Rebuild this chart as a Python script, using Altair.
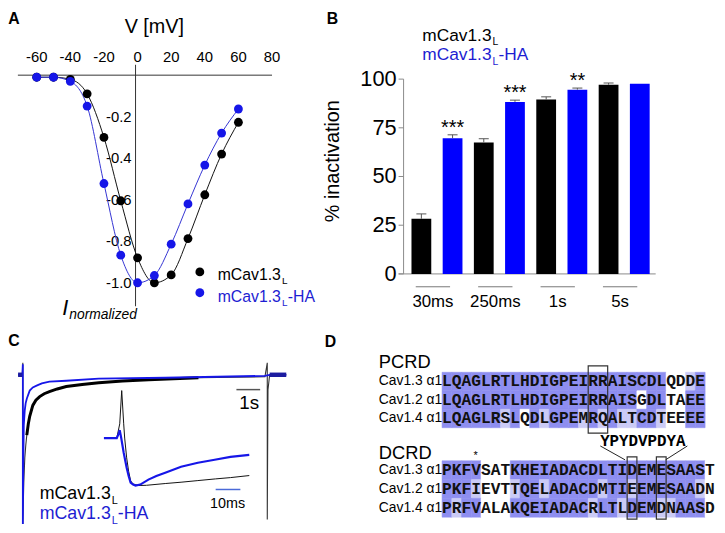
import altair as alt
import pandas as pd

# ============================ DATA ============================
# --- Panel A: normalised current-voltage relation
iv_voltage = [-60, -50, -40, -30, -20, -10, 0, 10, 20, 30, 40, 50, 60]
iv_mcav = [-0.01, -0.01, -0.02, -0.09, -0.30, -0.605, -0.88, -1.0, -0.962, -0.787, -0.576, -0.38, -0.227]
iv_mcav_ha = [-0.01, -0.01, -0.03, -0.149, -0.522, -0.867, -1.0, -0.965, -0.814, -0.62, -0.433, -0.279, -0.163]
iv_ticks_v = [-60, -40, -20, 0, 20, 40, 60, 80]
iv_ticks_i = [-1.0, -0.8, -0.6, -0.4, -0.2]

# --- Panel B: % inactivation after pulses of given duration
durations = ["30ms", "250ms", "1s", "5s"]
inact_mcav = [28.3, 67.5, 89.5, 97.1]
inact_mcav_sem = [2.5, 1.9, 1.4, 0.9]
inact_ha = [69.7, 88.3, 94.6, 97.6]
inact_ha_sem = [1.7, 0.9, 0.8, 0.0]
signif_ha = ["***", "***", "**", ""]
inact_ticks = [0, 25, 50, 75, 100]

# --- Panel C: normalised current traces (long pulse, seconds)
long_t_mcav = [-0.2, -0.02, 0.0, 0.0, 0.04, 0.083, 0.125, 0.167, 0.23, 0.29, 0.42, 0.55, 0.71, 0.9,
               1.12, 1.45, 1.83, 2.5, 3.2, 4.2, 5.3, 7.4, 10.2, 10.3, 10.3, 10.33, 10.4, 11.1]
long_i_mcav = [0, 0, 0.08, -1.0, -0.72, -0.556, -0.47, -0.404, -0.33, -0.278, -0.205, -0.17, -0.146, -0.127,
               -0.113, -0.095, -0.079, -0.065, -0.053, -0.042, -0.033, -0.02, -0.013, 0.08, -0.97, -0.1, 0, 0]
long_t_ha = [-0.2, -0.02, 0.0, 0.0, 0.02, 0.04, 0.08, 0.12, 0.17, 0.29, 0.42, 0.58, 0.8, 1.12,
             1.83, 3.2, 6.0, 10.2, 10.4, 11.1]
long_i_ha = [0, 0, 0.07, -1.0, -0.6, -0.338, -0.24, -0.19, -0.159, -0.106, -0.085, -0.073, -0.058, -0.046,
             -0.04, -0.026, -0.02, -0.007, 0, 0]
# inset (milliseconds)
short_t_mcav = [0, 1.2, 2.0, 2.8, 3.2, 4.0, 4.8, 5.6, 6.6, 7.6, 8.8, 12, 19.6, 26, 32.8, 40, 46, 53.6]
short_i_mcav = [0, 0.3, 1.0, 0.3, 0.0, -0.417, -0.7, -0.9, -0.97, -0.98, -1.0, -0.995, -0.958, -0.93,
                -0.896, -0.86, -0.833, -0.79]
short_t_ha = [-5.2, 0, 0.8, 1.2, 1.8, 2.8, 4.0, 4.8, 5.6, 6.6, 7.6, 9.5, 12.8, 16, 19.6, 26, 32.8, 39.6, 46, 53.6]
short_i_ha = [0, 0, 0.1, 0.167, 0.0, -0.31, -0.625, -0.8, -0.9375, -0.98, -1.0, -0.98, -0.875, -0.8,
              -0.73, -0.604, -0.52, -0.458, -0.396, -0.354]

# --- Panel D: sequence alignment (D = identical, l = similar, w = different)
row_names = ["Cav1.3 \u03b11", "Cav1.2 \u03b11", "Cav1.4 \u03b11"]
pcrd_seq = ["LQAGLRTLHDIGPEIRRAISCDLQDDE",
            "LQAGLRTLHDIGPEIRRAISGDLTAEE",
            "LQAGLRSLQDLGPEMRQALTCDTEEEE"]
pcrd_shade = ["DDDDDDDDDDDDDDDDDDDDDDDwwlD",
              "DDDDDDDDDDDDDDDDDDDDwDDwwDD",
              "DDDDDDlDwDlDDDlDlDllDDlwwDD"]
dcrd_seq = ["PKFVSATKHEIADACDLTIDEMESAAST",
            "PKFIEVTTQELADACDMTIEEMESAADN",
            "PRFVALAKQEIADACRLTLDEMDNAASD"]
dcrd_shade = ["DDDDwwwDDDDDDDDDDDDDDDDDDDDw",
              "DDDlwwwlDDlDDDDDlDDlDDDDDDlw",
              "DlDDwwwDDDDDDDDlDDlDDDllDDDw"]
pcrd_box_start, pcrd_box_width = [15], [2]
dcrd_box_start, dcrd_box_width = [19, 22], [1, 1]
ha_tag = "YPYDVPDYA"

# ============================ STYLE ============================
OX = OY = 8  # page margin (reference pixels -> chart pixels)
FONT = "Liberation Sans"
MONO = "Liberation Mono"
BLACK = "#000000"
BLUE = "#1616e8"
BLUE_LINE = "#3434d2"
BAR_BLUE = "#0000ff"
TXT_BLUE = "#1d1dd2"
GRAY = "#8a8a8a"
AXIS_DARK = "#333333"
DARK = "#8e8ef0"
LIGHT = "#cbcbf6"


def xs(dom, r0, r1):
    return alt.Scale(domain=dom, range=[r0 - OX, r1 - OX], nice=False, zero=False)


def ys(dom, r0, r1):
    return alt.Scale(domain=dom, range=[r0 - OY, r1 - OY], nice=False, zero=False)


one = pd.DataFrame({"_": [0]})


def label(text, x, y, size, color=BLACK, weight="normal", style="normal", align="left",
          baseline="middle", angle=0, font=FONT):
    return alt.Chart(one).mark_text(text=text, fontSize=size, color=color, fontWeight=weight,
                                    fontStyle=style, align=align, baseline=baseline, angle=angle,
                                    font=font).encode(x=alt.value(x - OX), y=alt.value(y - OY))


def hline(x1, y1, x2, y2, color=BLACK, width=1.0):
    return alt.Chart(one).mark_rule(color=color, strokeWidth=width).encode(
        x=alt.value(x1 - OX), y=alt.value(y1 - OY), x2=alt.value(x2 - OX), y2=alt.value(y2 - OY))


def seg(sx, sy, x0, y0, x1, y1, color, width=1.0):
    """A straight axis line drawn in data coordinates of a panel's scales."""
    return alt.Chart(one).transform_calculate(
        xa=str(x0), ya=str(y0), xb=str(x1), yb=str(y1)).mark_rule(color=color, strokeWidth=width).encode(
        x=alt.X("xa:Q", scale=sx, axis=None), y=alt.Y("ya:Q", scale=sy, axis=None),
        x2="xb:Q", y2="yb:Q")


# ============================ PANEL A ============================
A_XMIN, A_XMAX = -71.2, 80
A_YMIN, A_YMAX = -1.113, 0.05
sAx = xs([A_XMIN, A_XMAX], 18, 275)
sAy = ys([A_YMIN, A_YMAX], 306.7, 62.5)

dfA_wt = pd.DataFrame({"V": iv_voltage, "I": iv_mcav})
dfA_ha = pd.DataFrame({"V": iv_voltage, "I": iv_mcav_ha})
dfA_xt = pd.DataFrame({"v": iv_ticks_v, "lab": [str(v) for v in iv_ticks_v]})
dfA_yt = pd.DataFrame({"i": iv_ticks_i, "lab": ["%.1f" % v for v in iv_ticks_i]})


def encA(ch):
    return ch.encode(x=alt.X("V:Q", scale=sAx, axis=None), y=alt.Y("I:Q", scale=sAy, axis=None))


layerA = alt.layer(
    seg(sAx, sAy, A_XMIN, 0, A_XMAX, 0, AXIS_DARK),
    seg(sAx, sAy, -1.2, A_YMIN, -1.2, A_YMAX, AXIS_DARK),
    alt.Chart(dfA_xt).mark_text(fontSize=15, font=FONT, align="center", baseline="middle", color=BLACK).encode(
        x=alt.X("v:Q", scale=sAx, axis=None), y=alt.value(55 - OY), text="lab:N"),
    alt.Chart(dfA_yt).mark_text(fontSize=15, font=FONT, align="right", baseline="middle", color=BLACK).encode(
        x=alt.value(133 - OX), y=alt.Y("i:Q", scale=sAy, axis=None), text="lab:N"),
    encA(alt.Chart(dfA_wt).mark_line(color="#111111", strokeWidth=1, interpolate="monotone")),
    encA(alt.Chart(dfA_ha).mark_line(color=BLUE_LINE, strokeWidth=1, interpolate="monotone")),
    encA(alt.Chart(dfA_wt).mark_circle(color=BLACK, size=80, opacity=1)),
    encA(alt.Chart(dfA_ha).mark_circle(color=BLUE, size=80, opacity=1)),
)

# ============================ PANEL B ============================
rowsB = []
for g, d in enumerate(durations):
    rowsB.append({"idx": 2 * g, "mean": inact_mcav[g], "sem": inact_mcav_sem[g], "series": "mCav1.3L", "star": ""})
    rowsB.append({"idx": 2 * g + 1, "mean": inact_ha[g], "sem": inact_ha_sem[g], "series": "mCav1.3L-HA",
                  "star": signif_ha[g]})
dfB = pd.DataFrame(rowsB)
dfG = pd.DataFrame({"g": list(range(len(durations))), "dur": durations})
dfB_yt = pd.DataFrame({"p": inact_ticks, "lab": [str(v) for v in inact_ticks]})

B_XMIN, B_XMAX, B_YAXIS = -0.73, 7.51, -0.57
sBx = xs([B_XMIN, B_XMAX], 403, 663)
sBy = ys([0, 100], 274, 77)

bars = alt.Chart(dfB).transform_calculate(
    x0="datum.idx - 0.317", x1="datum.idx + 0.317", zero="0").mark_bar().encode(
    x=alt.X("x0:Q", scale=sBx, axis=None), x2="x1:Q",
    y=alt.Y("mean:Q", scale=sBy, axis=None), y2="zero:Q",
    color=alt.Color("series:N", scale=alt.Scale(domain=["mCav1.3L", "mCav1.3L-HA"], range=[BLACK, BAR_BLUE]),
                    legend=None))
err = alt.Chart(dfB).transform_filter("datum.sem > 0").transform_calculate(
    top="datum.mean + datum.sem").mark_rule(color="#555555", strokeWidth=1).encode(
    x=alt.X("idx:Q", scale=sBx, axis=None), y=alt.Y("mean:Q", scale=sBy, axis=None), y2="top:Q")
caps = alt.Chart(dfB).transform_filter("datum.sem > 0").transform_calculate(
    top="datum.mean + datum.sem", c0="datum.idx - 0.16", c1="datum.idx + 0.16").mark_rule(
    color="#555555", strokeWidth=1).encode(
    x=alt.X("c0:Q", scale=sBx, axis=None), x2="c1:Q", y=alt.Y("top:Q", scale=sBy, axis=None))
stars = alt.Chart(dfB).transform_calculate(top="datum.mean + datum.sem").mark_text(
    fontSize=20, font=FONT, baseline="alphabetic", align="center", dy=-1, color=BLACK).encode(
    x=alt.X("idx:Q", scale=sBx, axis=None), y=alt.Y("top:Q", scale=sBy, axis=None), text="star:N")
under = alt.Chart(dfG).transform_calculate(
    u0="2 * datum.g + 0.5 - 0.13 - 0.55", u1="2 * datum.g + 0.5 - 0.13 + 0.55").mark_rule(
    color="#777777", strokeWidth=1).encode(
    x=alt.X("u0:Q", scale=sBx, axis=None), x2="u1:Q", y=alt.value(287 - OY))
durlab = alt.Chart(dfG).transform_calculate(gc="2 * datum.g + 0.5 - 0.13").mark_text(
    fontSize=17, font=FONT, baseline="middle", align="center", color=BLACK).encode(
    x=alt.X("gc:Q", scale=sBx, axis=None), y=alt.value(302 - OY), text="dur:N")
yticks = alt.Chart(dfB_yt).transform_calculate(t0=str(B_XMIN), t1=str(B_YAXIS)).mark_rule(
    color=GRAY, strokeWidth=1).encode(
    x=alt.X("t0:Q", scale=sBx, axis=None), x2="t1:Q", y=alt.Y("p:Q", scale=sBy, axis=None))
ylabels = alt.Chart(dfB_yt).mark_text(fontSize=22, font=FONT, align="right", baseline="middle",
                                      color=BLACK).encode(
    x=alt.value(401 - OX), y=alt.Y("p:Q", scale=sBy, axis=None), text="lab:N")
layerB = alt.layer(
    seg(sBx, sBy, B_XMIN, 0, B_XMAX, 0, GRAY),
    seg(sBx, sBy, B_YAXIS, 0, B_YAXIS, 100, GRAY),
    yticks, ylabels, bars, err, caps, stars, under, durlab)

# ============================ PANEL C ============================
dfC_wt = pd.DataFrame({"t": long_t_mcav, "I": long_i_mcav, "k": range(len(long_t_mcav))})
dfC_ha = pd.DataFrame({"t": long_t_ha, "I": long_i_ha, "k": range(len(long_t_ha))})
sCx = xs([-0.5, 11], 11, 287)
sCy = ys([-1.05, 0.1], 534.55, 360.9)


def encC(ch):
    return ch.encode(x=alt.X("t:Q", scale=sCx, axis=None), y=alt.Y("I:Q", scale=sCy, axis=None), order="k:Q")


layerC = alt.layer(
    encC(alt.Chart(dfC_wt).mark_line(color="#333333", strokeWidth=1.1)),
    encC(alt.Chart(dfC_wt).transform_filter("datum.t >= 0.15 && datum.t <= 8").mark_line(
        color=BLACK, strokeWidth=3)),
    encC(alt.Chart(dfC_ha).mark_line(color=BLUE, strokeWidth=1.8)),
    encC(alt.Chart(dfC_ha).transform_filter("datum.t < 0").mark_line(color="#1c1ca0", strokeWidth=4.5)),
    encC(alt.Chart(dfC_ha).transform_filter("datum.t > 10.3").mark_line(color="#1c1ca0", strokeWidth=4.5)),
)

dfS_wt = pd.DataFrame({"t": short_t_mcav, "I": short_i_mcav, "k": range(len(short_t_mcav))})
dfS_ha = pd.DataFrame({"t": short_t_ha, "I": short_i_ha, "k": range(len(short_t_ha))})
sIx = xs([-6, 56], 103, 258)
sIy = ys([-1.5, 1.1], 512, 387.2)


def encS(ch):
    return ch.encode(x=alt.X("t:Q", scale=sIx, axis=None), y=alt.Y("I:Q", scale=sIy, axis=None), order="k:Q")


layerInset = alt.layer(
    encS(alt.Chart(dfS_wt).mark_line(color="#111111", strokeWidth=1)),
    encS(alt.Chart(dfS_ha).mark_line(color=BLUE, strokeWidth=2.2)),
)

# ============================ PANEL D ============================
sDx = xs([0, 28], 447, 447 + 28 * 9.85)
sPy = ys([0, 3], 373.5, 429.5)
sDy = ys([0, 3], 463, 520)
shade_scale = alt.Scale(domain=["D", "l", "w"], range=[DARK, LIGHT, "#ffffff"])


def block(seqs, shades, yscale, b_start, b_width, b_top, b_bot):
    recs = []
    for r, (s, sh) in enumerate(zip(seqs, shades)):
        for c, (aa, code) in enumerate(zip(s, sh)):
            recs.append({"col": c, "row": r, "aa": aa, "shade": code})
    df = pd.DataFrame(recs)
    cells = alt.Chart(df).transform_calculate(c1="datum.col + 1", r1="datum.row + 1").mark_rect(
        strokeWidth=0.6).encode(
        x=alt.X("col:Q", scale=sDx, axis=None), x2="c1:Q",
        y=alt.Y("row:Q", scale=yscale, axis=None), y2="r1:Q",
        color=alt.Color("shade:N", scale=shade_scale, legend=None),
        stroke=alt.Stroke("shade:N", scale=shade_scale, legend=None))
    letters = alt.Chart(df).transform_calculate(cm="datum.col + 0.5", rm="datum.row + 0.5").mark_text(
        font=MONO, fontSize=16.4, fontWeight="bold", baseline="middle", align="center", color="#111111").encode(
        x=alt.X("cm:Q", scale=sDx, axis=None), y=alt.Y("rm:Q", scale=yscale, axis=None), text="aa:N")
    names = alt.Chart(pd.DataFrame({"name": row_names, "row": [0, 1, 2]})).transform_calculate(
        rm="datum.row + 0.5").mark_text(font=FONT, fontSize=14, baseline="middle", align="left",
                                        color=BLACK).encode(
        x=alt.value(383 - OX), y=alt.Y("rm:Q", scale=yscale, axis=None), text="name:N")
    boxes = alt.Chart(pd.DataFrame({"start": b_start, "width": b_width})).transform_calculate(
        end="datum.start + datum.width", top=str(b_top), bot=str(b_bot)).mark_rect(
        fillOpacity=0, stroke="#333333", strokeWidth=1.2).encode(
        x=alt.X("start:Q", scale=sDx, axis=None), x2="end:Q",
        y=alt.Y("top:Q", scale=yscale, axis=None), y2="bot:Q")
    return alt.layer(cells, letters, names, boxes)


layerD1 = block(pcrd_seq, pcrd_shade, sPy, pcrd_box_start, pcrd_box_width, -0.35, 3.29)
layerD2 = block(dcrd_seq, dcrd_shade, sDy, dcrd_box_start, dcrd_box_width, -0.21, 3.1)

# ============================ ANNOTATIONS ============================
notes = [
    # panel letters
    label("A", 14, 16, 16, weight="bold", align="center"),
    label("B", 336, 16, 16, weight="bold", align="center"),
    label("C", 14, 342, 16, weight="bold", align="center"),
    label("D", 334, 343, 16, weight="bold", align="center"),
    # panel A
    label("V [mV]", 156, 24, 20, align="center"),
    label("I", 66, 309, 22, style="italic", align="center"),
    label("normalized", 70, 316, 14, style="italic"),
    alt.Chart(one).mark_circle(color=BLACK, size=80, opacity=1).encode(x=alt.value(202 - OX), y=alt.value(272 - OY)),
    alt.Chart(one).mark_circle(color=BLUE, size=80, opacity=1).encode(x=alt.value(202 - OX), y=alt.value(293 - OY)),
    label("mCav1.3", 220, 275, 16),
    label("L", 285, 281.5, 10),
    label("mCav1.3", 220, 297, 16, color=TXT_BLUE),
    label("L", 285, 303.5, 10, color=TXT_BLUE),
    label("-HA", 291, 297, 16, color=TXT_BLUE),
    # panel B
    label("% inactivation", 337, 160, 20, align="center", angle=270),
    label("mCav1.3", 427, 33, 17.5),
    label("L", 498, 39.5, 10.5),
    label("mCav1.3", 427, 53, 17.5, color=TXT_BLUE),
    label("L", 498, 59.5, 10.5, color=TXT_BLUE),
    label("-HA", 504, 53, 17.5, color=TXT_BLUE),
    # panel C
    hline(239, 391, 263, 391, color="#555555", width=1.5),
    label("1s", 252, 405, 19, align="center"),
    hline(218, 492, 243, 492, color="#4a6ad8", width=1.5),
    label("10ms", 230, 507, 14.5, align="center"),
    label("mCav1.3", 40, 497, 18),
    label("L", 113, 503.5, 11),
    label("mCav1.3", 40, 517, 18, color=TXT_BLUE),
    label("L", 113, 523.5, 11, color=TXT_BLUE),
    label("-HA", 119, 517, 18, color=TXT_BLUE),
    # panel D
    label("PCRD", 383, 363, 18.5),
    label("DCRD", 383, 455, 18.5),
    label(ha_tag, 650, 443, 16, weight="bold", align="center", font=MONO),
    label("*", 481, 461, 11, align="center", baseline="alphabetic"),
    hline(607, 448, 632, 462, color="#222222", width=1),
    hline(695, 448, 673, 462, color="#222222", width=1),
]

chart = alt.layer(
    layerA, layerB, layerC, layerInset, layerD1, layerD2, *notes
).resolve_scale(
    x="independent", y="independent", color="independent", stroke="independent"
).properties(
    width=717, height=517, padding=0, autosize=alt.AutoSizeParams(type="none"), background="white"
).configure_view(strokeWidth=0)

chart.save("out.html", embed_options={"renderer": "svg", "actions": False})
